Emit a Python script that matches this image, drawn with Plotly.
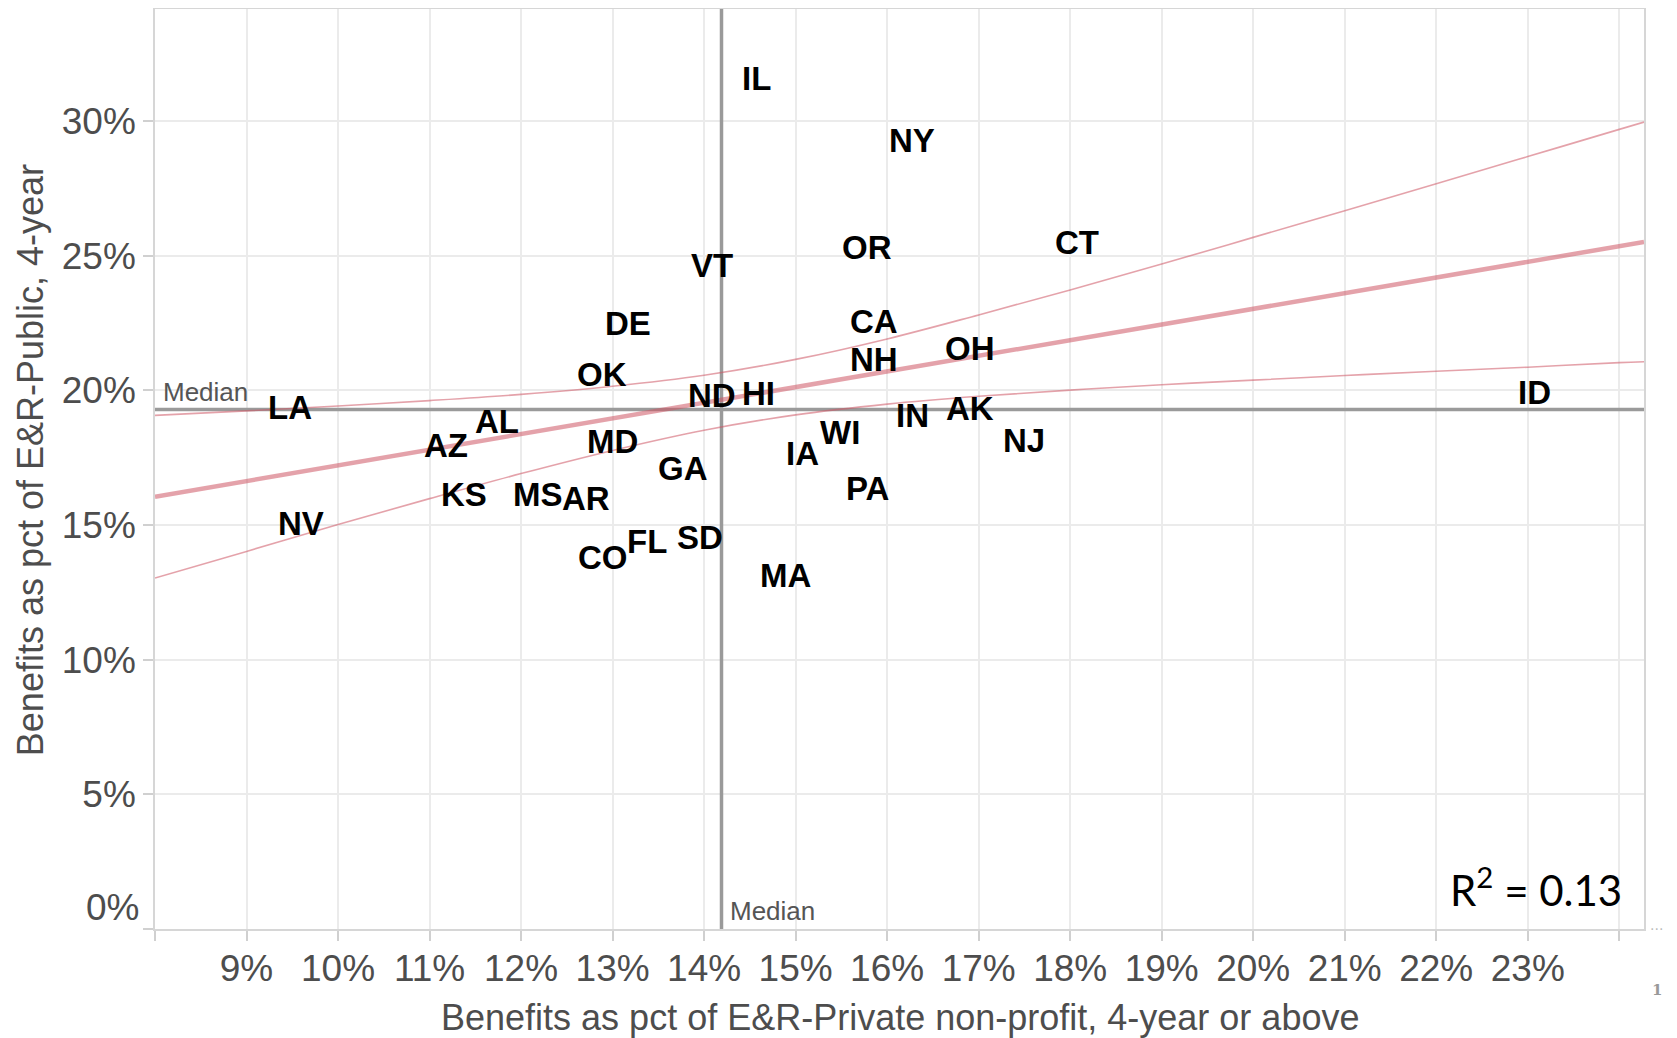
import plotly.graph_objects as go

# ---- data ----
states = ["IL", "NY", "OR", "CT", "VT", "DE", "CA", "NH", "OH", "OK", "ND", "HI",
          "IN", "AK", "NJ", "WI", "IA", "MD", "GA", "PA", "AR", "SD", "FL", "CO",
          "MA", "LA", "AL", "AZ", "KS", "MS", "NV", "ID"]
private_pct = [14.57, 16.27, 15.78, 18.07, 14.09, 13.17, 15.86, 15.86, 16.90, 12.88, 14.09, 14.59,
               16.28, 16.91, 17.49, 15.49, 15.08, 13.00, 13.77, 15.78, 12.71, 13.96, 13.38, 12.89,
               14.89, 9.48, 11.74, 11.18, 11.38, 12.19, 9.59, 23.07]
public_pct = [31.59, 29.29, 25.32, 25.50, 24.65, 22.49, 22.57, 21.16, 21.57, 20.60, 19.82, 19.90,
              19.08, 19.34, 18.15, 18.45, 17.67, 18.11, 17.11, 16.37, 16.00, 14.55, 14.37, 13.81,
              13.14, 19.38, 18.86, 17.97, 16.15, 16.15, 15.07, 19.93]
median_private = 14.19
median_public = 19.29
r2_label = "0.13"

# fitted line and its confidence band
fit_x = [8, 9, 10, 11, 12, 13, 14, 15, 16, 17, 18, 19, 20, 21, 22, 23, 24, 24.27]
fit_mid = [16.05, 16.63, 17.22, 17.80, 18.38, 18.96, 19.54, 20.12, 20.70, 21.29, 21.87, 22.45,
           23.03, 23.61, 24.19, 24.77, 25.36, 25.51]
fit_upper = [19.07, 19.24, 19.42, 19.62, 19.85, 20.15, 20.56, 21.15, 21.91, 22.80, 23.73, 24.69,
             25.68, 26.67, 27.67, 28.68, 29.69, 29.96]
fit_lower = [13.03, 14.02, 15.02, 15.98, 16.91, 17.77, 18.52, 19.09, 19.49, 19.78, 20.01, 20.21,
             20.38, 20.55, 20.71, 20.86, 21.03, 21.06]

x_ticks = list(range(9, 24))
x_tick_text = [f"{v}%" for v in x_ticks]
x_unlabelled_ticks = [8, 24]
y_ticks = [5, 10, 15, 20, 25, 30]
y_tick_text = [f"{v}%" for v in y_ticks]
y_unlabelled_ticks = [0]
x_range = [8, 24.27]
y_range = [0, 34.16]

fig = go.Figure()

grey_line = "#9a9a9a"
fig.add_trace(go.Scatter(x=[median_private, median_private], y=y_range, mode="lines",
                         line=dict(color=grey_line, width=3.5), showlegend=False, hoverinfo="skip"))
fig.add_trace(go.Scatter(x=x_range, y=[median_public, median_public], mode="lines",
                         line=dict(color=grey_line, width=3.5), showlegend=False, hoverinfo="skip"))

pink = "rgba(205,85,100,0.55)"
fig.add_trace(go.Scatter(x=fit_x, y=fit_upper, mode="lines", line=dict(color=pink, width=1.6, shape="spline"),
                         showlegend=False, hoverinfo="skip"))
fig.add_trace(go.Scatter(x=fit_x, y=fit_lower, mode="lines", line=dict(color=pink, width=1.6, shape="spline"),
                         showlegend=False, hoverinfo="skip"))
fig.add_trace(go.Scatter(x=fit_x, y=fit_mid, mode="lines", line=dict(color=pink, width=4.5),
                         showlegend=False, hoverinfo="skip"))

tick_font = dict(family="Liberation Sans, Arial, sans-serif", size=37, color="#4d4d4d")
grid = dict(showgrid=True, gridcolor="#ebebeb", gridwidth=1.5)
tick_style = dict(ticks="outside", ticklen=10, tickwidth=1.5, tickcolor="#d0d0d0")
fig.update_xaxes(range=x_range, tickvals=x_ticks, ticktext=x_tick_text, automargin=False,
                 showline=True, linecolor="#d6d6d6", linewidth=1.5, mirror=True,
                 tickfont=tick_font, zeroline=False, ticklabelstandoff=-4,
                 minor=dict(tickvals=x_unlabelled_ticks, **grid, **tick_style),
                 **grid, **tick_style)
fig.update_yaxes(range=y_range, tickvals=y_ticks, ticktext=y_tick_text, automargin=False,
                 showline=True, linecolor="#d6d6d6", linewidth=1.5, mirror=True,
                 tickfont=tick_font, zeroline=False,
                 minor=dict(tickvals=y_unlabelled_ticks, **grid, **tick_style),
                 **grid, **tick_style)

label_font = dict(family="Liberation Sans, Arial, sans-serif", size=33, color="black")
annotations = [
    dict(text=f"<b>{s_}</b>", xref="x", yref="y", x=xv, y=yv, xanchor="center", yanchor="middle",
         showarrow=False, font=label_font)
    for s_, xv, yv in zip(states, private_pct, public_pct)
]
annotations += [
    dict(text="0%", xref="paper", yref="y", x=0, y=0, xanchor="right", yanchor="middle",
         xshift=-14, yshift=22, showarrow=False, font=tick_font),
    dict(text="Median", xref="x", yref="y", x=x_range[0], y=median_public, xanchor="left",
         yanchor="middle", xshift=6, yshift=17, showarrow=False,
         font=dict(family="Liberation Sans, Arial, sans-serif", size=26, color="#555555")),
    dict(text="Median", xref="x", yref="y", x=median_private, y=0, xanchor="left",
         yanchor="middle", xshift=6, yshift=18, showarrow=False,
         font=dict(family="Liberation Sans, Arial, sans-serif", size=26, color="#555555")),
    dict(text=f"R<sup>2</sup> = {r2_label}", xref="paper", yref="paper", x=0.9866, y=0.0457,
         xanchor="right", yanchor="middle", showarrow=False,
         font=dict(family="Lato, Open Sans, sans-serif", size=42, color="black")),
    dict(text="Benefits as pct of E&R-Private non-profit, 4-year or above", xref="paper", yref="paper",
         x=0.5, y=-0.0967, xanchor="center", yanchor="middle", showarrow=False,
         font=dict(family="Liberation Sans, Arial, sans-serif", size=36, color="#4d4d4d")),
    dict(text="Benefits as pct of E&R-Public, 4-year", xref="paper", yref="paper",
         x=-0.0837, y=0.51, xanchor="center", yanchor="middle", textangle=-90, showarrow=False,
         font=dict(family="Liberation Sans, Arial, sans-serif", size=36, color="#4d4d4d")),
    dict(text="···", xref="paper", yref="paper", x=1.003, y=-0.0005, xanchor="left", yanchor="middle",
         showarrow=False, font=dict(family="DejaVu Sans", size=14, color="#bbbbbb")),
    dict(text="<b>1</b>", xref="paper", yref="paper", x=1.004, y=-0.0663, xanchor="left", yanchor="middle",
         showarrow=False, font=dict(family="DejaVu Serif", size=15, color="#999999")),
]

# the page adds an 8px body margin, so the figure is shifted back by that amount
fig.update_layout(width=1669, height=1030, margin=dict(l=147, r=33, t=1, b=109),
                  plot_bgcolor="white", paper_bgcolor="white", annotations=annotations,
                  showlegend=False)

fig.write_html("out.html")
